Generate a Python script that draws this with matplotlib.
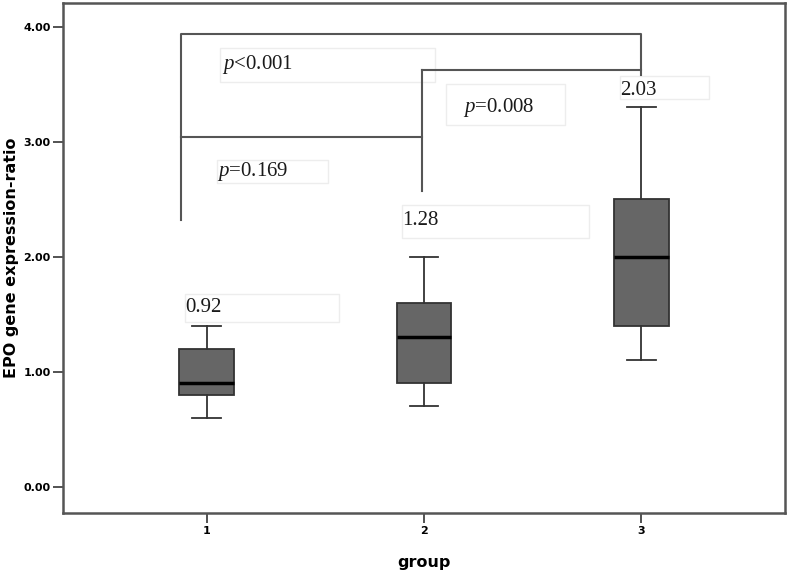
import matplotlib
matplotlib.use('Agg')
from matplotlib import pyplot as plt
from matplotlib.patches import Rectangle

# box plot summary values
groups = [1, 2, 3]
whisLow = [0.6, 0.7, 1.1]
q1 = [0.8, 0.9, 1.4]
medians = [0.9, 1.3, 2.0]
q3 = [1.2, 1.6, 2.5]
whisHigh = [1.4, 2.0, 3.3]
meanLabels = ['0.92', '1.28', '2.03']
pLabels = ['<0.001', '=0.169', '=0.008']
yTicks = [0.0, 1.0, 2.0, 3.0, 4.0]

plt.rcParams['mathtext.fontset'] = 'custom'
plt.rcParams['mathtext.it'] = 'Liberation Serif:italic'
plt.rcParams['mathtext.rm'] = 'Liberation Serif'

fig = plt.figure(figsize=(7.87, 5.72), dpi=100)
ax = fig.add_axes([0.080, 0.103, 0.9175, 0.892])

stats = []
for i in range(len(groups)):
    stats.append({'med': medians[i], 'q1': q1[i], 'q3': q3[i],
                  'whislo': whisLow[i], 'whishi': whisHigh[i], 'fliers': []})

ax.bxp(stats, positions=groups, widths=0.25, patch_artist=True, showfliers=False,
       boxprops=dict(facecolor='#666666', edgecolor='#333333', linewidth=1.3),
       medianprops=dict(color='black', linewidth=2.5),
       whiskerprops=dict(color='#333333', linewidth=1.3),
       capprops=dict(color='#333333', linewidth=1.3),
       capwidths=0.13)

# significance brackets
lc = '#555555'
ax.plot([0.885, 0.885, 3.0, 3.0], [2.32, 3.94, 3.94, 3.58], color=lc, lw=1.5)
ax.plot([0.885, 1.99], [3.04, 3.04], color=lc, lw=1.5)
ax.plot([1.99, 1.99], [2.57, 3.63], color=lc, lw=1.5)
ax.plot([1.99, 3.0], [3.63, 3.63], color=lc, lw=1.5)

# annotation labels with faint frames: (text x, text y, box x0, box x1, box y0, box y1)
pLayout = [(1.07, 3.67, 1.06, 2.05, 3.52, 3.82),
           (1.05, 2.74, 1.046, 1.56, 2.64, 2.84),
           (2.18, 3.30, 2.10, 2.65, 3.15, 3.50)]
meanLayout = [(0.90, 1.56, 0.90, 1.61, 1.43, 1.68),
              (1.90, 2.32, 1.90, 2.76, 2.16, 2.45),
              (2.90, 3.45, 2.90, 3.31, 3.37, 3.57)]

for lab, (tx, ty, x0, x1, y0, y1) in zip(pLabels, pLayout):
    ax.add_patch(Rectangle((x0, y0), x1 - x0, y1 - y0, fill=False, edgecolor='#ededed', lw=1))
    ax.text(tx, ty, r'$\it{p}$' + lab, fontsize=15, family='Liberation Serif',
            ha='left', va='center', color='#1a1a1a')

for lab, (tx, ty, x0, x1, y0, y1) in zip(meanLabels, meanLayout):
    ax.add_patch(Rectangle((x0, y0), x1 - x0, y1 - y0, fill=False, edgecolor='#ededed', lw=1))
    ax.text(tx, ty, lab, fontsize=15, family='Liberation Serif',
            ha='left', va='center', color='#1a1a1a')

ax.set_xlim(0.34, 3.66)
ax.set_ylim(-0.23, 4.21)
ax.set_xticks(groups)
ax.set_xticklabels([str(g) for g in groups], fontsize=8, fontweight='bold')
ax.set_yticks(yTicks)
ax.set_yticklabels(['%.2f' % v for v in yTicks], fontsize=8, fontweight='bold')
ax.tick_params(direction='out', length=7, width=1.3, color='#444444', pad=2)
for sp in ax.spines.values():
    sp.set_color('#555555')
    sp.set_linewidth(1.8)

ax.set_xlabel('group', fontsize=11.5, fontweight='bold', labelpad=14)
ax.set_ylabel('EPO gene expression-ratio', fontsize=11.5, fontweight='bold', labelpad=3)

plt.savefig('out.png', dpi=100)
